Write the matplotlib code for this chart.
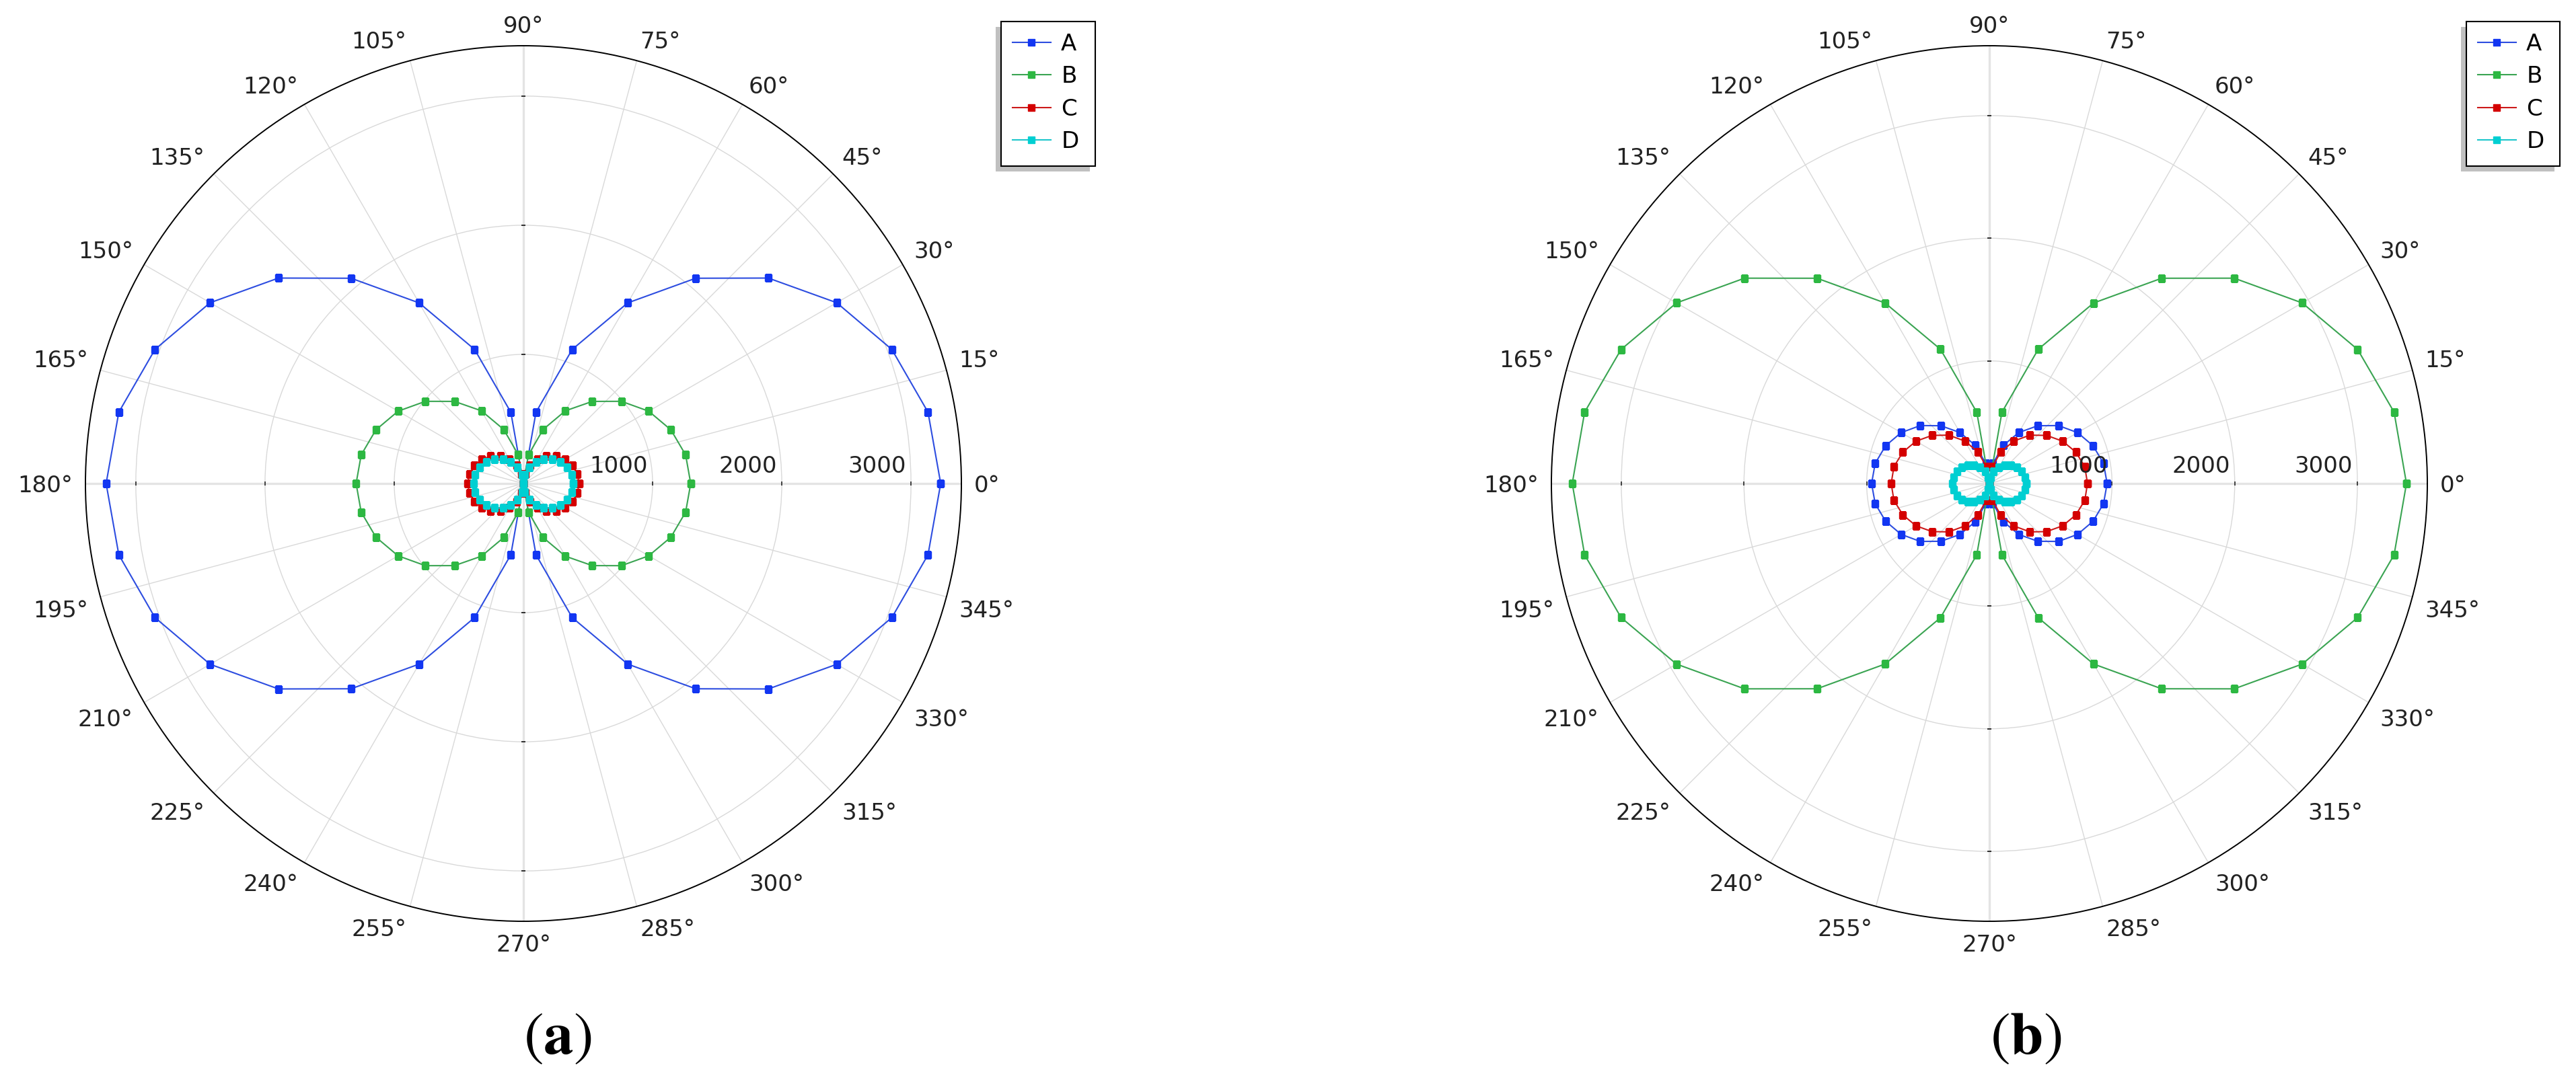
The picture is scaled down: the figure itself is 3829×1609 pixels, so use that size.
import numpy as np
import matplotlib
matplotlib.use('Agg')
import matplotlib.pyplot as plt
import matplotlib.transforms as mtransforms
from matplotlib.patches import Rectangle

plt.rcParams['mathtext.fontset'] = 'stix'

# angles in degrees, one point every 10 deg (closed curve)
angle_deg = list(range(0, 361, 10))

# panel (a)
a_A = [3230, 3180, 3035, 2800, 2475, 2075, 1615, 1105, 560, 0,
       560, 1105, 1615, 2075, 2475, 2800, 3035, 3180, 3230,
       3180, 3035, 2800, 2475, 2075, 1615, 1105, 560, 0,
       560, 1105, 1615, 2075, 2475, 2800, 3035, 3180, 3230]
a_B = [1295, 1275, 1215, 1120, 990, 830, 650, 445, 225, 0,
       225, 445, 650, 830, 990, 1120, 1215, 1275, 1295,
       1275, 1215, 1120, 990, 830, 650, 445, 225, 0,
       225, 445, 650, 830, 990, 1120, 1215, 1275, 1295]
a_C = [430, 425, 405, 372, 330, 276, 215, 147, 75, 0,
       75, 147, 215, 276, 330, 372, 405, 425, 430,
       425, 405, 372, 330, 276, 215, 147, 75, 0,
       75, 147, 215, 276, 330, 372, 405, 425, 430]
a_D = [385, 379, 362, 333, 295, 247, 193, 132, 67, 0,
       67, 132, 193, 247, 295, 333, 362, 379, 385,
       379, 362, 333, 295, 247, 193, 132, 67, 0,
       67, 132, 193, 247, 295, 333, 362, 379, 385]

# panel (b)
b_A = [960, 945, 900, 830, 735, 615, 480, 330, 165, 0,
       165, 330, 480, 615, 735, 830, 900, 945, 960,
       945, 900, 830, 735, 615, 480, 330, 165, 0,
       165, 330, 480, 615, 735, 830, 900, 945, 960]
b_B = [3400, 3350, 3195, 2945, 2605, 2185, 1700, 1165, 590, 0,
       590, 1165, 1700, 2185, 2605, 2945, 3195, 3350, 3400,
       3350, 3195, 2945, 2605, 2185, 1700, 1165, 590, 0,
       590, 1165, 1700, 2185, 2605, 2945, 3195, 3350, 3400]
b_C = [800, 790, 750, 690, 610, 515, 400, 275, 140, 0,
       140, 275, 400, 515, 610, 690, 750, 790, 800,
       790, 750, 690, 610, 515, 400, 275, 140, 0,
       140, 275, 400, 515, 610, 690, 750, 790, 800]
b_D = [300, 295, 282, 260, 230, 193, 150, 103, 52, 0,
       52, 103, 150, 193, 230, 260, 282, 295, 300,
       295, 282, 260, 230, 193, 150, 103, 52, 0,
       52, 103, 150, 193, 230, 260, 282, 295, 300]

series_names = ['A', 'B', 'C', 'D']
r_ticks = [1000, 2000, 3000]
theta_ticks = list(range(0, 360, 15))
r_max = [3390, 3570]
captions = ['a', 'b']

line_colors = ['#2d4de0', '#3aa452', '#cc1a1a', '#1cc6cc']
marker_colors = ['#1236f2', '#2db842', '#d40000', '#00cfd2']

W, H = 3829, 1609
fig = plt.figure(figsize=(W / 100, H / 100), dpi=100)
fig.patch.set_facecolor('white')

cx_list = [778, 2957]
cy = 719
R = 651
label_gap = 19   # px between outer circle and nearest edge of angle labels
caption_x = [829, 3011]
legend_box = [(1488, 32, 1628, 247), (3666, 32, 3805, 247)]  # left, top, right, bottom (px from top-left)
txt_color = '#222222'
fs = 24.5


def fig_xy(x, y):
    return x / W, 1 - y / H


theta = np.deg2rad(angle_deg)
panels = [[a_A, a_B, a_C, a_D], [b_A, b_B, b_C, b_D]]

for k, data in enumerate(panels):
    cx = cx_list[k]
    ax = fig.add_axes([(cx - R) / W, (H - cy - R) / H, 2 * R / W, 2 * R / H],
                      projection='polar')
    ax.set_axisbelow(True)
    handles = []
    for name, vals, lc, mc in zip(series_names, data, line_colors, marker_colors):
        h, = ax.plot(theta, vals, color=lc, lw=1.5, marker='s', ms=7.7,
                     mfc=mc, mec=mc, label=name, zorder=3)
        handles.append(h)

    ax.set_ylim(0, r_max[k])
    ax.set_rticks(r_ticks)
    ax.set_yticklabels([])
    ax.set_thetagrids(theta_ticks, labels=[''] * len(theta_ticks))
    ax.tick_params(axis='both', length=0)
    ax.grid(color='#d9d9d9', lw=1.0)
    ax.spines['polar'].set_color('black')
    ax.spines['polar'].set_linewidth(1.4)

    # angle labels: nearest edge of each label sits a fixed gap outside the circle
    kr = 0.5 * (R + label_gap) / R
    for t in theta_ticks:
        c, s = np.cos(np.deg2rad(t)), np.sin(np.deg2rad(t))
        ha = 'left' if c > 0.1 else ('right' if c < -0.1 else 'center')
        va = 'baseline' if s > 0.1 else ('top' if s < -0.1 else 'center_baseline')
        ax.text(0.5 + kr * c, 0.5 + kr * s, f'{t}°', transform=ax.transAxes,
                ha=ha, va=va, fontsize=fs, color=txt_color, clip_on=False)

    # thicker main axes lines
    for a in [0, 90, 180, 270]:
        ax.axvline(np.deg2rad(a), color='#e4e4e4', lw=2.4, zorder=1)

    # small tick marks along the main axes
    for a in [0, 180]:
        ax.plot(np.deg2rad([a] * len(r_ticks)), r_ticks, ls='none', marker='|',
                ms=5, mew=1.3, color='#333333', zorder=1.5)
    for a in [90, 270]:
        ax.plot(np.deg2rad([a] * len(r_ticks)), r_ticks, ls='none', marker='_',
                ms=5, mew=1.3, color='#333333', zorder=1.5)

    off = mtransforms.offset_copy(ax.transData, fig=fig, x=-7, y=16, units='dots')
    for r in r_ticks:
        ax.text(0, r, f'{r}', transform=off, ha='right', va='baseline',
                fontsize=fs, color=txt_color, zorder=10)

    # legend: frame + shadow drawn by hand, content by fig.legend
    l, t, rr, b = legend_box[k]
    x0, y0 = fig_xy(l, b)
    x1, y1 = fig_xy(rr, t)
    sx, sy = fig_xy(l - 8, b + 8)
    fig.add_artist(Rectangle((sx, sy), x1 - x0, y1 - y0, transform=fig.transFigure,
                             facecolor='#c0c0c0', edgecolor='none', zorder=4.5))
    fig.add_artist(Rectangle((x0, y0), x1 - x0, y1 - y0, transform=fig.transFigure,
                             facecolor='white', edgecolor='black', lw=1.5, zorder=4.6))
    fig.legend(handles, series_names, loc='upper left',
               bbox_to_anchor=fig_xy(l, t), bbox_transform=fig.transFigure,
               frameon=False, fontsize=fs, handlelength=1.67, handletextpad=0.45,
               labelspacing=0.45, borderpad=0.5, borderaxespad=0)

    fig.text(caption_x[k] / W, 42 / H, r'$(\mathbf{' + captions[k] + '})$',
             ha='center', va='baseline', fontsize=64)

fig.savefig('out.png', dpi=100, facecolor='white')
